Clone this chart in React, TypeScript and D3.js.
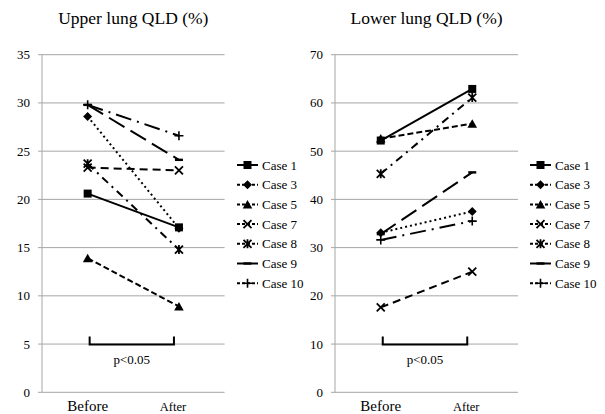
import React from "react";
import * as d3 from "d3";

const categories = ["Before", "After"];
const caseNames = ["Case 1", "Case 3", "Case 5", "Case 7", "Case 8", "Case 9", "Case 10"];

const upperCase1 = [20.6, 17.1];
const upperCase3 = [28.6, 17.0];
const upperCase5 = [13.9, 8.9];
const upperCase7 = [23.3, 23.0];
const upperCase8 = [23.7, 14.8];
const upperCase9 = [29.8, 24.1];
const upperCase10 = [29.8, 26.6];

const lowerCase1 = [52.2, 62.9];
const lowerCase3 = [33.1, 37.5];
const lowerCase5 = [52.6, 55.7];
const lowerCase7 = [17.6, 25.0];
const lowerCase8 = [45.3, 61.1];
const lowerCase9 = [32.8, 45.6];
const lowerCase10 = [31.6, 35.5];

const upperTicks = [0, 5, 10, 15, 20, 25, 30, 35];
const lowerTicks = [0, 10, 20, 30, 40, 50, 60, 70];

const upperSeries = [upperCase1, upperCase3, upperCase5, upperCase7, upperCase8, upperCase9, upperCase10];
const lowerSeries = [lowerCase1, lowerCase3, lowerCase5, lowerCase7, lowerCase8, lowerCase9, lowerCase10];

const dashes = ["", "2,3", "6,3", "8,5", "8,5,2,5", "18,7", "16,6,2,6"];
const markers = ["square", "diamond", "triangle", "x", "asterisk", "dash", "plus"];

const FONT = "Liberation Serif, Tinos, Times New Roman, DejaVu Serif, serif";
const txt = { fontFamily: FONT };

function Marker({ type, x, y }: { type: string; x: number; y: number }) {
  const s = 4;
  switch (type) {
    case "square":
      return <rect x={x - s} y={y - s} width={2 * s} height={2 * s} fill="#000" />;
    case "diamond":
      return <path d={`M${x},${y - 4.5}L${x + 4.5},${y}L${x},${y + 4.5}L${x - 4.5},${y}Z`} fill="#000" />;
    case "triangle":
      return <path d={`M${x},${y - 4.5}L${x + 4.8},${y + 4}L${x - 4.8},${y + 4}Z`} fill="#000" />;
    case "x":
      return (
        <path d={`M${x - 4},${y - 4}L${x + 4},${y + 4}M${x - 4},${y + 4}L${x + 4},${y - 4}`} stroke="#000" strokeWidth={1.8} />
      );
    case "asterisk":
      return (
        <path
          d={`M${x - 4},${y - 4}L${x + 4},${y + 4}M${x - 4},${y + 4}L${x + 4},${y - 4}M${x},${y - 4.5}L${x},${y + 4.5}`}
          stroke="#000"
          strokeWidth={1.8}
        />
      );
    case "dash":
      return <rect x={x - 4} y={y - 1.2} width={8} height={2.4} fill="#000" />;
    case "plus":
      return (
        <path d={`M${x - 4.5},${y}L${x + 4.5},${y}M${x},${y - 4.5}L${x},${y + 4.5}`} stroke="#000" strokeWidth={1.6} />
      );
    default:
      return null;
  }
}

function Panel({
  title,
  series,
  ticks,
  x0,
  x1,
  legendX,
  bracketValue,
}: {
  title: string;
  series: number[][];
  ticks: number[];
  x0: number;
  x1: number;
  legendX: number;
  bracketValue: number;
}) {
  const yTop = 54.7;
  const yBottom = 392.3;
  const y = d3.scaleLinear().domain([ticks[0], ticks[ticks.length - 1]]).range([yBottom, yTop]);
  const x = d3.scaleBand().domain(categories).range([x0, x1]);
  const cx = (c: string) => (x(c) as number) + x.bandwidth() / 2;
  const line = d3
    .line<number>()
    .x((_, i) => cx(categories[i]))
    .y((d) => y(d));
  const by = y(bracketValue) + 0.5;
  const bx0 = cx(categories[0]) + 2;
  const bx1 = cx(categories[1]) - 5;
  return (
    <g>
      <text x={(x0 + x1) / 2} y={24} textAnchor="middle" style={txt} fontSize={17.5} fill="#000">
        {title}
      </text>
      {ticks.map((t) => (
        <g key={t}>
          <line x1={x0 - 4} x2={x1} y1={y(t)} y2={y(t)} stroke="#a6a6a6" strokeWidth={1} />
          <text x={x0 - 12} y={y(t) + 4.5} textAnchor="end" style={txt} fontSize={13} fill="#000">
            {t}
          </text>
        </g>
      ))}
      <line x1={x0} x2={x0} y1={yTop} y2={yBottom} stroke="#a6a6a6" strokeWidth={1} />
      <text x={cx(categories[0])} y={yBottom + 19} textAnchor="middle" style={txt} fontSize={15} fill="#000">
        {categories[0]}
      </text>
      <text x={cx(categories[1]) - 6} y={yBottom + 19} textAnchor="middle" style={txt} fontSize={12.5} fill="#000">
        {categories[1]}
      </text>
      {series.map((vals, i) => (
        <g key={i}>
          <path
            d={line(vals) || ""}
            fill="none"
            stroke="#000"
            strokeWidth={2}
            strokeDasharray={dashes[i] || undefined}
          />
          {vals.map((v, j) => (
            <Marker key={j} type={markers[i]} x={cx(categories[j])} y={y(v)} />
          ))}
        </g>
      ))}
      <path
        d={`M${bx0},${by - 8}L${bx0},${by}L${bx1},${by}L${bx1},${by - 8}`}
        fill="none"
        stroke="#000"
        strokeWidth={2}
      />
      <text x={(bx0 + bx1) / 2} y={by + 19} textAnchor="middle" style={txt} fontSize={13} fill="#000">
        p&lt;0.05
      </text>
      {caseNames.map((name, i) => {
        const ly = 165 + i * 19.7;
        return (
          <g key={name}>
            <line
              x1={legendX}
              x2={legendX + 21}
              y1={ly}
              y2={ly}
              stroke="#000"
              strokeWidth={2}
              strokeDasharray={i === 5 ? undefined : dashes[i] ? "3,2" : undefined}
            />
            <Marker type={markers[i]} x={legendX + 10.5} y={ly} />
            <text x={legendX + 25} y={ly + 4.5} style={txt} fontSize={13} fill="#000">
              {name}
            </text>
          </g>
        );
      })}
    </g>
  );
}

export default function App() {
  return (
    <svg
      width={605}
      height={414}
      style={{ position: "absolute", left: 0, top: 0, background: "#fff" }}
    >
      <rect width={605} height={414} fill="#fff" />
      <Panel
        title="Upper lung QLD (%)"
        series={upperSeries}
        ticks={upperTicks}
        x0={42}
        x1={224.6}
        legendX={237}
        bracketValue={5}
      />
      <Panel
        title="Lower lung QLD (%)"
        series={lowerSeries}
        ticks={lowerTicks}
        x0={335}
        x1={518}
        legendX={530}
        bracketValue={10}
      />
    </svg>
  );
}
